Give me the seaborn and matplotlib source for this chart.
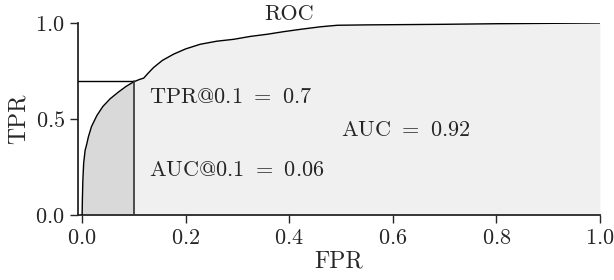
import numpy as np
import matplotlib
matplotlib.use("Agg")
import matplotlib.pyplot as plt
import seaborn as sns

# ROC curve points
fpr = [0.0, 0.0005, 0.0014, 0.003, 0.0058, 0.009, 0.012, 0.018, 0.0285, 0.04,
       0.054, 0.07, 0.085, 0.1, 0.11, 0.119, 0.128, 0.138, 0.155, 0.177,
       0.2, 0.228, 0.26, 0.293, 0.325, 0.357, 0.39, 0.422, 0.46, 0.493,
       0.55, 0.6, 0.699, 0.8, 0.9, 1.0]
tpr = [0.0, 0.08, 0.18, 0.27, 0.337, 0.37, 0.406, 0.46, 0.518, 0.565,
       0.605, 0.64, 0.67, 0.694, 0.705, 0.713, 0.74, 0.768, 0.805, 0.838,
       0.865, 0.889, 0.905, 0.915, 0.93, 0.941, 0.955, 0.967, 0.98, 0.988,
       0.99, 0.991, 0.993, 0.996, 0.998, 1.0]

fpr_cut = 0.1
tpr_at_cut = 0.7

sns.set_style("ticks")
plt.rcParams["font.family"] = "serif"
plt.rcParams["font.serif"] = ["cmr10", "DejaVu Serif"]
plt.rcParams["mathtext.fontset"] = "cm"
plt.rcParams["axes.formatter.use_mathtext"] = True

fig = plt.figure(figsize=(6.14, 2.8), dpi=100)
ax = fig.add_axes([0.127, 0.232, 0.85, 0.686])

fpr_a = np.array(fpr)
tpr_a = np.array(tpr)
ax.fill_between(fpr_a, tpr_a, color="#f0f0f0", lw=0, zorder=0)
m = fpr_a <= fpr_cut
ax.fill_between(fpr_a[m], tpr_a[m], color="#d9d9d9", lw=0, zorder=1)

sns.lineplot(x=fpr, y=tpr, color="black", lw=1.0, sort=False,
             estimator=None, ax=ax, zorder=3)
ax.plot([-0.01, fpr_cut], [tpr_at_cut, tpr_at_cut], color="black", lw=1.0, zorder=3)
ax.plot([fpr_cut, fpr_cut], [0, tpr_at_cut], color="#333333", lw=1.2, zorder=3)

fs = 16
ax.text(0.13, 0.615, r"TPR@0.1 $=$ 0.7", va="center", ha="left", fontsize=fs)
ax.text(0.13, 0.233, r"AUC@0.1 $=$ 0.06", va="center", ha="left", fontsize=fs)
ax.text(0.50, 0.44, r"AUC $=$ 0.92", va="center", ha="left", fontsize=fs)
ax.text(0.40, 0.995, "ROC", va="bottom", ha="center", fontsize=fs)

ax.set_xlim(-0.008, 1.0)
ax.set_ylim(0, 1.0)
ax.set_xticks([0.0, 0.2, 0.4, 0.6, 0.8, 1.0])
ax.set_yticks([0.0, 0.5, 1.0])
ax.set_xlabel("FPR", fontsize=17, labelpad=2)
ax.set_ylabel("TPR", fontsize=17, labelpad=4)
ax.tick_params(length=6, width=1.0, labelsize=16, direction="out")
for s in ["left", "bottom"]:
    ax.spines[s].set_linewidth(1.3)
sns.despine(ax=ax)

fig.savefig("out.png", dpi=100)
